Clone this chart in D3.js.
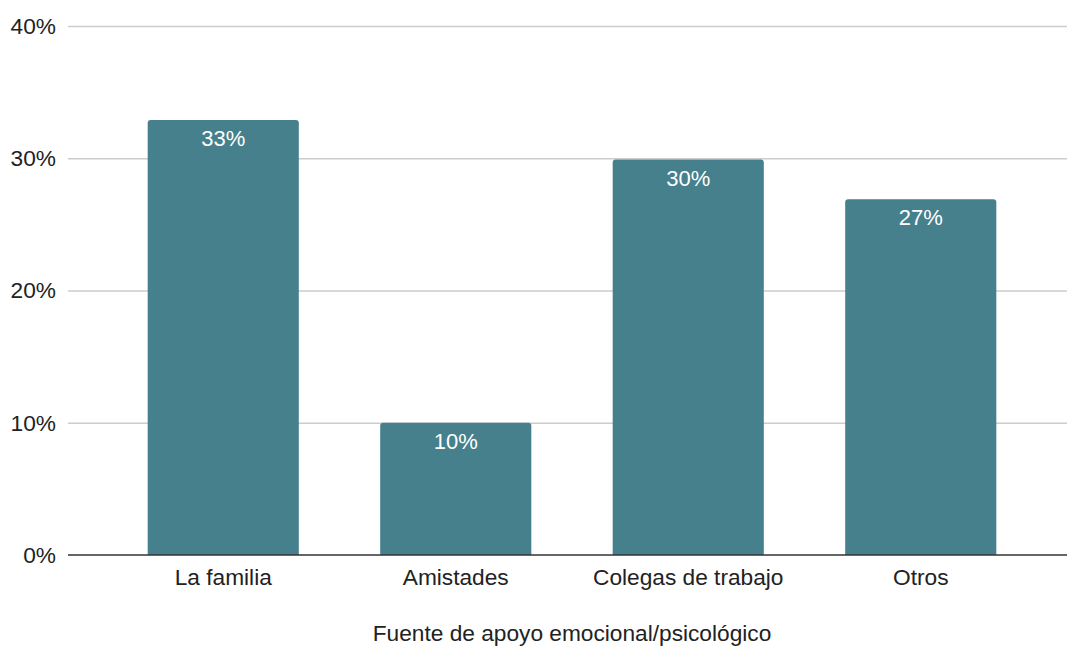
<!DOCTYPE html>
<html>
<head>
<meta charset="utf-8">
<script src="https://cdn.jsdelivr.net/npm/d3@7"></script>
<style>
  body { margin: 0; background: white; }
  svg text { font-family: "Liberation Sans", Arial, sans-serif; }
</style>
</head>
<body>
<div id="chart"></div>
<script>
// Data.
let categories = ["La familia", "Amistades", "Colegas de trabajo", "Otros"];
let values = [0.329, 0.100, 0.299, 0.269];
let yTicks = [0, 0.1, 0.2, 0.3, 0.4];
let xTitle = "Fuente de apoyo emocional/psicológico";

let width = 1067, height = 646;
let margin = {left: 68, right: 0, top: 26, bottom: 91};
let axisFont = 22.7;

let svg = d3.select("#chart")
  .append("svg")
    .attr("width", width)
    .attr("height", height);

let x = d3.scaleBand()
  .domain(categories)
  .range([107, 1037])
  .paddingInner(0.35)
  .paddingOuter(0.175);

let y = d3.scaleLinear()
  .domain([0, 0.4])
  .range([height - margin.bottom, margin.top]);

// Gridlines.
svg.append("g")
  .selectAll("line")
  .data(yTicks.filter(d => d > 0))
  .enter()
  .append("line")
    .attr("x1", margin.left)
    .attr("x2", width - margin.right)
    .attr("y1", d => y(d) + 0.5)
    .attr("y2", d => y(d) + 0.5)
    .attr("stroke", "#cccccc")
    .attr("stroke-width", 1.5);

// Y tick labels.
svg.append("g")
  .selectAll("text")
  .data(yTicks)
  .enter()
  .append("text")
    .attr("x", 56)
    .attr("y", d => y(d))
    .attr("dy", "0.35em")
    .attr("text-anchor", "end")
    .attr("font-size", axisFont)
    .attr("fill", "#222")
    .text(d => d3.format(".0%")(d));

// Bars with slightly rounded tops.
function barpath(d, i){
  let x0 = x(categories[i]), w = x.bandwidth();
  let y0 = y(d), yb = y(0), r = 3;
  let p = d3.path();
  p.moveTo(x0, yb);
  p.lineTo(x0, y0 + r);
  p.quadraticCurveTo(x0, y0, x0 + r, y0);
  p.lineTo(x0 + w - r, y0);
  p.quadraticCurveTo(x0 + w, y0, x0 + w, y0 + r);
  p.lineTo(x0 + w, yb);
  p.closePath();
  return p.toString();
} // barpath

svg.append("g")
  .selectAll("path")
  .data(values)
  .enter()
  .append("path")
    .attr("d", (d, i) => barpath(d, i))
    .attr("fill", "#46808d");

// Value labels inside bars.
svg.append("g")
  .selectAll("text")
  .data(values)
  .enter()
  .append("text")
    .attr("x", (d, i) => x(categories[i]) + x.bandwidth()/2)
    .attr("y", d => y(d) + 26)
    .attr("text-anchor", "middle")
    .attr("font-size", 22)
    .attr("fill", "white")
    .text(d => d3.format(".0%")(d));

// Baseline.
svg.append("line")
  .attr("x1", margin.left)
  .attr("x2", width - margin.right)
  .attr("y1", y(0))
  .attr("y2", y(0))
  .attr("stroke", "#333")
  .attr("stroke-width", 1.5);

// Category labels.
svg.append("g")
  .selectAll("text")
  .data(categories)
  .enter()
  .append("text")
    .attr("x", d => x(d) + x.bandwidth()/2)
    .attr("y", y(0) + 30)
    .attr("text-anchor", "middle")
    .attr("font-size", axisFont)
    .attr("fill", "#222")
    .text(d => d);

// Axis title.
svg.append("text")
  .attr("x", 572)
  .attr("y", 641)
  .attr("text-anchor", "middle")
  .attr("font-size", axisFont)
  .attr("fill", "#222")
  .text(xTitle);
</script>
</body>
</html>
